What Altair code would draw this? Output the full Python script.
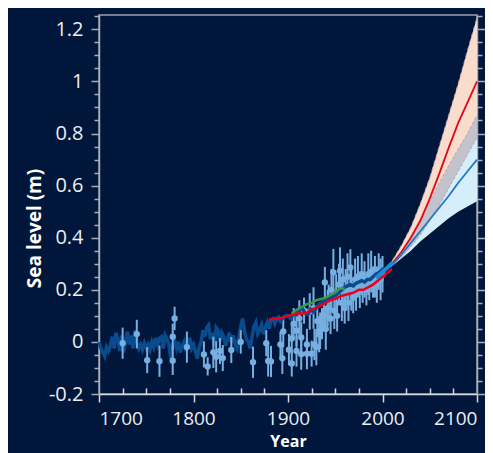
import altair as alt
import pandas as pd

W, H = 378, 379
BG = "#00163a"
FONT = "Open Sans"

# ---------------- historical reconstruction (dark blue) ----------------
recon_year = [1700, 1702, 1704, 1706, 1708, 1710, 1712, 1714, 1716, 1718, 1720, 1722, 1724, 1726, 1728,
              1730, 1732, 1734, 1736, 1738, 1740, 1742, 1744, 1746, 1748, 1750, 1752, 1754, 1756, 1758,
              1760, 1762, 1764, 1766, 1768, 1770, 1772, 1774, 1776, 1778, 1780, 1782, 1784, 1786, 1788,
              1790, 1792, 1794, 1796, 1798, 1800, 1802, 1804, 1806, 1808, 1810, 1812, 1814, 1816, 1818,
              1820, 1822, 1824, 1826, 1828, 1830, 1832, 1834, 1836, 1838, 1840, 1842, 1844, 1846, 1848,
              1850, 1852, 1854, 1856, 1858, 1860, 1862, 1864, 1866, 1868, 1870, 1872, 1874, 1876, 1878,
              1880, 1882, 1884, 1886, 1888, 1890, 1892, 1894, 1896, 1898, 1900, 1903, 1906, 1909, 1912,
              1915, 1918, 1921, 1924, 1927, 1930, 1933, 1936, 1939, 1942, 1945, 1948, 1951, 1954, 1957,
              1960, 1963, 1966, 1969, 1972, 1975, 1978, 1981, 1984, 1987, 1990, 1993, 1996, 1999, 2002]
recon_val = [0.0, -0.025, -0.04, -0.055, -0.02, -0.035, -0.015, 0.02, -0.025, 0.035, 0.01, -0.035, 0.025, -0.04, 0.0,
             0.04, -0.01, 0.025, -0.025, 0.045, 0.0, -0.025, -0.01, -0.03, -0.005, -0.025, -0.01, -0.03, 0.0, -0.02,
             0.015, -0.01, 0.015, 0.02, -0.025, 0.025, 0.01, -0.01, -0.065, -0.01, 0.005, -0.025, 0.0, -0.04, -0.015,
             0.0, -0.035, -0.01, 0.015, -0.025, -0.01, -0.035, -0.065, -0.02, 0.0, 0.045, 0.02, 0.055, 0.065, 0.01,
             0.035, -0.015, 0.055, 0.045, 0.0, 0.035, 0.02, -0.015, 0.01, 0.035, 0.0, 0.025, -0.01, -0.025, 0.02,
             0.06, 0.09, 0.04, 0.01, 0.0, -0.025, 0.02, 0.06, 0.075, 0.03, 0.045, 0.065, 0.03, 0.055, 0.075,
             0.05, 0.085, 0.09, 0.07, 0.09, 0.095, 0.08, 0.09, 0.095, 0.1, 0.1, 0.09, 0.11, 0.105, 0.12,
             0.13, 0.11, 0.105, 0.125, 0.115, 0.13, 0.145, 0.15, 0.16, 0.165, 0.17, 0.175, 0.18, 0.19, 0.2,
             0.21, 0.215, 0.22, 0.215, 0.225, 0.23, 0.235, 0.23, 0.24, 0.24, 0.25, 0.26, 0.265, 0.275, 0.285]

# ---------------- proxy / tide-gauge points with error bars ----------------
pt_year = [1725, 1740, 1751, 1764, 1778, 1778, 1780, 1793, 1811, 1815, 1821, 1824, 1828, 1831, 1840,
           1850, 1863, 1877, 1879, 1882, 1892, 1894, 1895,
           1901, 1904, 1904, 1906, 1909, 1909, 1912, 1914, 1914, 1917, 1920, 1920, 1923, 1925, 1927, 1928,
           1930, 1931, 1933, 1934, 1936, 1938, 1939, 1940, 1942, 1943, 1945, 1946, 1948, 1949, 1951, 1952,
           1954, 1955, 1957, 1958, 1960, 1961, 1963, 1964, 1966, 1967, 1969, 1971, 1972, 1974, 1976, 1978,
           1979, 1981, 1983, 1985, 1986, 1988, 1990, 1992, 1994, 1996, 1998, 2000]
pt_val = [-0.005, 0.03, -0.07, -0.074, -0.072, 0.02, 0.09, -0.02, -0.048, -0.094, -0.04, -0.057, -0.035, -0.062, -0.031,
          0.0, -0.078, -0.005, -0.073, -0.075, -0.01, -0.063, 0.04,
          -0.03, 0.013, -0.083, 0.07, 0.043, -0.035, 0.09, 0.017, -0.047, 0.12, -0.01, -0.045, 0.117, -0.045, 0.13, -0.01,
          -0.02, 0.08, 0.03, 0.043, 0.07, 0.1, 0.228, 0.05, 0.13, 0.16, 0.09, 0.2, 0.267, 0.12, 0.18, 0.1,
          0.22, 0.273, 0.15, 0.24, 0.13, 0.2, 0.25, 0.15, 0.286, 0.2, 0.17, 0.24, 0.19, 0.25, 0.2, 0.26,
          0.21, 0.24, 0.2, 0.26, 0.22, 0.27, 0.23, 0.25, 0.22, 0.27, 0.24, 0.26]
pt_err = [0.06, 0.055, 0.05, 0.06, 0.055, 0.05, 0.045, 0.06, 0.05, 0.035, 0.06, 0.06, 0.05, 0.05, 0.05,
          0.045, 0.06, 0.05, 0.06, 0.06, 0.05, 0.06, 0.06,
          0.06, 0.06, 0.05, 0.06, 0.06, 0.06, 0.07, 0.06, 0.06, 0.05, 0.06, 0.06, 0.07, 0.05, 0.08, 0.06,
          0.07, 0.06, 0.07, 0.07, 0.06, 0.06, 0.06, 0.08, 0.07, 0.06, 0.06, 0.08, 0.09, 0.07, 0.08, 0.06,
          0.08, 0.09, 0.07, 0.08, 0.06, 0.08, 0.09, 0.07, 0.07, 0.08, 0.06, 0.08, 0.07, 0.08, 0.07, 0.08,
          0.06, 0.07, 0.06, 0.08, 0.06, 0.08, 0.06, 0.08, 0.07, 0.07, 0.08, 0.07]

# ---------------- other observational series ----------------
cw_year = [1880, 1885, 1890, 1895, 1900, 1905, 1910, 1915, 1920, 1925, 1930, 1935, 1940, 1945,
           1950, 1955, 1960, 1965, 1970, 1975, 1980, 1985, 1990, 1995, 2000, 2005, 2010]
cw_val = [0.085, 0.09, 0.088, 0.095, 0.1, 0.105, 0.11, 0.108, 0.112, 0.125, 0.13, 0.14, 0.15, 0.16,
          0.165, 0.175, 0.18, 0.185, 0.19, 0.2, 0.2, 0.21, 0.22, 0.235, 0.25, 0.265, 0.28]

gr_year = [1904, 1910, 1915, 1920, 1925, 1930, 1935, 1940, 1945, 1950, 1955, 1960]
gr_val = [0.11, 0.125, 0.135, 0.145, 0.15, 0.16, 0.165, 0.17, 0.18, 0.19, 0.205, 0.205]

sat_year = [1993, 1996, 1999, 2002, 2005, 2008, 2011]
sat_val = [0.245, 0.255, 0.265, 0.275, 0.285, 0.295, 0.305]

# ---------------- projections ----------------
proj_year = [2007, 2010, 2020, 2030, 2040, 2050, 2060, 2070, 2080, 2090, 2100]
hi_upper = [0.29, 0.31, 0.37, 0.44, 0.53, 0.63, 0.75, 0.87, 0.99, 1.12, 1.245]
hi_lower = [0.285, 0.292, 0.325, 0.365, 0.41, 0.465, 0.525, 0.59, 0.655, 0.72, 0.785]
hi_mid = [0.288, 0.30, 0.345, 0.40, 0.465, 0.55, 0.645, 0.745, 0.84, 0.92, 1.0]
lo_upper = [0.29, 0.30, 0.345, 0.405, 0.47, 0.54, 0.61, 0.675, 0.74, 0.80, 0.87]
lo_lower = [0.285, 0.29, 0.32, 0.35, 0.385, 0.415, 0.445, 0.475, 0.50, 0.52, 0.54]
lo_mid = [0.288, 0.295, 0.335, 0.38, 0.425, 0.47, 0.515, 0.56, 0.61, 0.655, 0.70]

y_major = [-0.2, 0, 0.2, 0.4, 0.6, 0.8, 1.0, 1.2]
y_minor = [-0.15, -0.1, -0.05, 0.05, 0.1, 0.15, 0.25, 0.3, 0.35, 0.45, 0.5, 0.55, 0.65, 0.7, 0.75,
           0.85, 0.9, 0.95, 1.05, 1.1, 1.15, 1.25]
x_major = [1700, 1800, 1900, 2000, 2100]
x_minor = [1725, 1750, 1775, 1825, 1850, 1875, 1925, 1950, 1975, 2025, 2050, 2075]

# ---------------- tables ----------------
recon = pd.DataFrame({"year": recon_year, "val": recon_val})
pts = pd.DataFrame({"year": pt_year, "val": pt_val, "err": pt_err})
pts["lo"] = pts["val"] - pts["err"]
pts["hi"] = pts["val"] + pts["err"]
cw = pd.DataFrame({"year": cw_year, "val": cw_val})
gr = pd.DataFrame({"year": gr_year, "val": gr_val})
sat = pd.DataFrame({"year": sat_year, "val": sat_val})
proj = pd.DataFrame({"year": proj_year, "hu": hi_upper, "hl": hi_lower, "hm": hi_mid,
                     "lu": lo_upper, "ll": lo_lower, "lm": lo_mid})

xs = alt.Scale(domain=[1700, 2100], nice=False, zero=False)
ys = alt.Scale(domain=[-0.2, 1.255], nice=False, zero=False)

AXC = "#a9adb9"
ax_x_major = alt.Axis(orient="bottom", values=x_major, format="d", grid=False,
                      tickSize=8, tickColor="#d5d7de", tickWidth=1.5,
                      domainColor="#d5d7de", domainWidth=1.5,
                      labelFont=FONT, labelFontSize=19, labelColor="#eceef3", labelPadding=7,
                      title="Year", titleFont=FONT, titleFontSize=16, titleFontWeight="bold",
                      titleColor="#ffffff", titleY=39, titleBaseline="top")
ax_x_minor = alt.Axis(orient="top", offset=-H, values=x_minor, grid=False, labels=False,
                      domain=False, tickSize=6, tickColor="#d5d7de", tickWidth=1.5, title="")
ax_y_major = alt.Axis(orient="left", values=y_major, grid=False,
                      tickSize=8, tickColor=AXC, tickWidth=1.5, domainColor=AXC, domainWidth=1.5,
                      labelFont=FONT, labelFontSize=20, labelColor="#eceef3", labelPadding=8,
                      labelExpr="datum.value < 0 ? '-' + format(abs(datum.value), '~g') : format(datum.value, '~g')",
                      title="Sea level (m)", titleFont=FONT, titleFontSize=19, titleFontWeight="bold",
                      titleColor="#ffffff", titlePadding=4, titleY=213)
ax_y_minor = alt.Axis(orient="left", values=y_minor, grid=False, labels=False, domain=False,
                      tickSize=5, tickColor=AXC, tickWidth=1.5, title="")
ax_y_major_r = alt.Axis(orient="right", values=y_major, grid=False, labels=False,
                        tickSize=8, tickColor=AXC, tickWidth=1.5, domainColor=AXC, domainWidth=1.5, title="")
ax_y_minor_r = alt.Axis(orient="right", values=y_minor, grid=False, labels=False, domain=False,
                        tickSize=5, tickColor=AXC, tickWidth=1.5, title="")

base_p = alt.Chart(proj)

band_low = base_p.mark_area(color="#d6eefa", opacity=1).encode(
    x=alt.X("year:Q", scale=xs, axis=ax_x_major),
    y=alt.Y("ll:Q", scale=ys, axis=ax_y_major),
    y2="lu:Q")
band_high = base_p.mark_area(color="#f9dccb", opacity=1).encode(
    x=alt.X("year:Q", scale=xs, axis=ax_x_minor),
    y=alt.Y("hl:Q", scale=ys, axis=ax_y_minor),
    y2="hu:Q")
band_grey = base_p.mark_area(color="#c4c2cc", opacity=1).encode(
    x=alt.X("year:Q", scale=xs, axis=None),
    y=alt.Y("hl:Q", scale=ys, axis=ax_y_major_r),
    y2="lu:Q")

edge_hu = base_p.mark_line(color="#b8a8a8", strokeWidth=1, strokeDash=[4, 3]).encode(
    x=alt.X("year:Q", scale=xs, axis=None), y=alt.Y("hu:Q", scale=ys, axis=ax_y_minor_r))
edge_hl = base_p.mark_line(color="#a9a7b5", strokeWidth=1, strokeDash=[3, 2]).encode(
    x=alt.X("year:Q", scale=xs, axis=None), y=alt.Y("hl:Q", scale=ys, axis=None))
edge_lu = base_p.mark_line(color="#a9a7b5", strokeWidth=1, strokeDash=[3, 2]).encode(
    x=alt.X("year:Q", scale=xs, axis=None), y=alt.Y("lu:Q", scale=ys, axis=None))

line_hm = base_p.mark_line(color="#e3061b", strokeWidth=1.8).encode(
    x=alt.X("year:Q", scale=xs, axis=None), y=alt.Y("hm:Q", scale=ys, axis=None))
line_lm = base_p.mark_line(color="#1f78c8", strokeWidth=1.8).encode(
    x=alt.X("year:Q", scale=xs, axis=None), y=alt.Y("lm:Q", scale=ys, axis=None))

recon_line = alt.Chart(recon).mark_line(color="#0a4b8e", strokeWidth=3.5).encode(
    x=alt.X("year:Q", scale=xs, axis=None), y=alt.Y("val:Q", scale=ys, axis=None))
recon_top = alt.Chart(recon).transform_filter("datum.year >= 1886").mark_line(
    color="#0a4b8e", strokeWidth=3.5).encode(
    x=alt.X("year:Q", scale=xs, axis=None), y=alt.Y("val:Q", scale=ys, axis=None))

err_rules = alt.Chart(pts).mark_rule(color="#78afe1", strokeWidth=2).encode(
    x=alt.X("year:Q", scale=xs, axis=None), y=alt.Y("lo:Q", scale=ys, axis=None), y2="hi:Q")
pt_marks = alt.Chart(pts).mark_circle(color="#78afe1", size=40, opacity=1).encode(
    x=alt.X("year:Q", scale=xs, axis=None), y=alt.Y("val:Q", scale=ys, axis=None))

cw_line = alt.Chart(cw).mark_line(color="#e8001c", strokeWidth=2.5).encode(
    x=alt.X("year:Q", scale=xs, axis=None), y=alt.Y("val:Q", scale=ys, axis=None))
gr_line = alt.Chart(gr).mark_line(color="#3c9a4c", strokeWidth=2.5).encode(
    x=alt.X("year:Q", scale=xs, axis=None), y=alt.Y("val:Q", scale=ys, axis=None))
sat_line = alt.Chart(sat).mark_line(color="#1d8ad8", strokeWidth=4).encode(
    x=alt.X("year:Q", scale=xs, axis=None), y=alt.Y("val:Q", scale=ys, axis=None))

chart = alt.layer(
    band_low, band_high, band_grey, edge_hu, edge_hl, edge_lu, line_hm, line_lm,
    recon_line, err_rules, pt_marks, recon_top, cw_line, gr_line, sat_line
).resolve_axis(x="independent", y="independent").properties(
    width=W, height=H,
    autosize=alt.AutoSizeParams(type="none"),
    padding={"left": 91, "top": 7, "right": 8, "bottom": 60},
    background=BG,
).configure_view(stroke="#9ca0ad", strokeWidth=1.5)

chart.save("out.html", embed_options={"renderer": "svg", "actions": False})
